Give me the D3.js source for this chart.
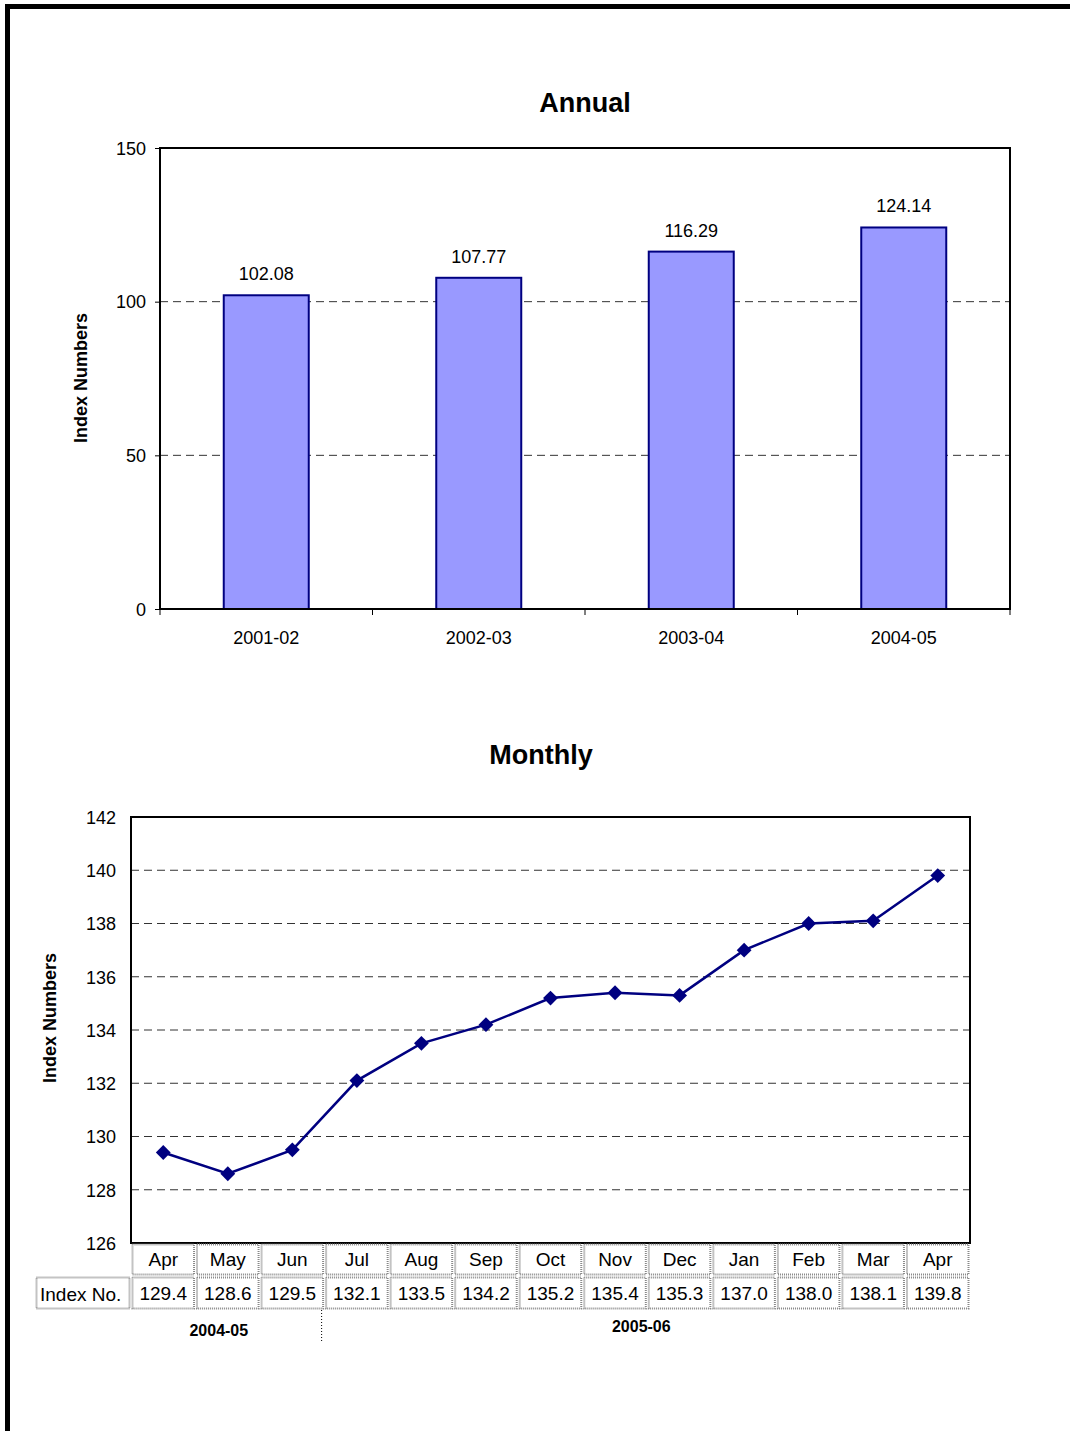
<!DOCTYPE html>
<html>
<head>
<meta charset="utf-8">
<script src="https://cdn.jsdelivr.net/npm/d3@7"></script>
<style>
  body { margin: 0; background: #fff; }
  text { font-family: "Liberation Sans", Arial, sans-serif; fill: #000; }
</style>
</head>
<body>
<script>
// annual data
var years = ["2001-02", "2002-03", "2003-04", "2004-05"];
var annualValues = [102.08, 107.77, 116.29, 124.14];
var annualTicks = [0, 50, 100, 150];

// monthly data
var months = ["Apr", "May", "Jun", "Jul", "Aug", "Sep", "Oct", "Nov", "Dec", "Jan", "Feb", "Mar", "Apr"];
var monthlyValues = [129.4, 128.6, 129.5, 132.1, 133.5, 134.2, 135.2, 135.4, 135.3, 137.0, 138.0, 138.1, 139.8];
var monthlyTicks = [126, 128, 130, 132, 134, 136, 138, 140, 142];
var periods = [{label: "2004-05", from: 0, to: 3}, {label: "2005-06", from: 3, to: 13}];

var W = 1070, H = 1431;

var svg = d3.select("body")
	.append("svg")
	.attr("width", W)
	.attr("height", H);

// page frame
svg.append("line").attr("x1", 7.5).attr("y1", 4).attr("x2", 7.5).attr("y2", H)
	.style("stroke", "#000").style("stroke-width", 5);
svg.append("line").attr("x1", 5).attr("y1", 6.5).attr("x2", W).attr("y2", 6.5)
	.style("stroke", "#000").style("stroke-width", 5);

/* ---------- Annual ---------- */
var a = {left: 160, right: 1010, top: 148, bottom: 609};

var ax = d3.scaleBand().domain(years).range([a.left, a.right]).paddingInner(0.6).paddingOuter(0.3);
var ay = d3.scaleLinear().domain([0, 150]).range([a.bottom, a.top]);

svg.append("text").attr("x", 585).attr("y", 112).attr("text-anchor", "middle")
	.style("font-size", "27px").style("font-weight", "bold").text("Annual");

// gridlines
svg.selectAll(".agrid").data(annualTicks.filter(function(d) { return d > 0 && d < 150; }))
	.enter().append("line")
	.attr("x1", a.left).attr("x2", a.right)
	.attr("y1", function(d) { return ay(d); }).attr("y2", function(d) { return ay(d); })
	.style("stroke", "#333").style("stroke-width", 1).style("stroke-dasharray", "8,5");

svg.selectAll(".bar").data(annualValues).enter().append("rect")
	.attr("x", function(d, i) { return ax(years[i]); })
	.attr("y", function(d) { return ay(d); })
	.attr("width", ax.bandwidth())
	.attr("height", function(d) { return ay(0) - ay(d); })
	.style("fill", "#9999ff").style("stroke", "#000080").style("stroke-width", 2);

svg.selectAll(".blabel").data(annualValues).enter().append("text")
	.attr("x", function(d, i) { return ax(years[i]) + ax.bandwidth() / 2; })
	.attr("y", function(d) { return ay(d) - 15; })
	.attr("text-anchor", "middle").style("font-size", "18px")
	.text(function(d) { return d.toFixed(2); });

svg.append("rect").attr("x", a.left).attr("y", a.top)
	.attr("width", a.right - a.left).attr("height", a.bottom - a.top)
	.style("fill", "none").style("stroke", "#000").style("stroke-width", 2);

var ayAxis = svg.append("g").attr("transform", "translate(" + a.left + ",0)")
	.call(d3.axisLeft(ay).tickValues(annualTicks).tickSize(5).tickPadding(9));
ayAxis.select(".domain").remove();
ayAxis.selectAll("text").style("font-size", "18px").attr("dy", "0.35em");

// category boundary ticks
var step = (a.right - a.left) / years.length;
var bounds = d3.range(years.length + 1).map(function(i) { return a.left + i * step; });
svg.selectAll(".xtick").data(bounds).enter().append("line")
	.attr("x1", function(d) { return d; }).attr("x2", function(d) { return d; })
	.attr("y1", a.bottom).attr("y2", a.bottom + 6)
	.style("stroke", "#000").style("stroke-width", 1);
svg.selectAll(".xlab").data(years).enter().append("text")
	.attr("x", function(d) { return ax(d) + ax.bandwidth() / 2; })
	.attr("y", 644).attr("text-anchor", "middle").style("font-size", "18px")
	.text(function(d) { return d; });

svg.append("text").attr("transform", "translate(87,378) rotate(-90)")
	.attr("text-anchor", "middle").style("font-size", "18px").style("font-weight", "bold")
	.text("Index Numbers");

/* ---------- Monthly ---------- */
var m = {left: 131, right: 970, top: 817, bottom: 1243};
var idx = d3.range(months.length);

var mx = d3.scaleBand().domain(idx).range([m.left, m.right]);
var my = d3.scaleLinear().domain([126, 142]).range([m.bottom, m.top]);

svg.append("text").attr("x", 541).attr("y", 764).attr("text-anchor", "middle")
	.style("font-size", "27px").style("font-weight", "bold").text("Monthly");

svg.selectAll(".mgrid").data(monthlyTicks.filter(function(d) { return d > 126 && d < 142; }))
	.enter().append("line")
	.attr("x1", m.left).attr("x2", m.right)
	.attr("y1", function(d) { return my(d); }).attr("y2", function(d) { return my(d); })
	.style("stroke", "#333").style("stroke-width", 1).style("stroke-dasharray", "8,5");

svg.append("rect").attr("x", m.left).attr("y", m.top)
	.attr("width", m.right - m.left).attr("height", m.bottom - m.top)
	.style("fill", "none").style("stroke", "#000").style("stroke-width", 2);

var line = d3.line()
	.x(function(d, i) { return mx(i) + mx.bandwidth() / 2; })
	.y(function(d) { return my(d); });

svg.append("path").datum(monthlyValues).attr("d", line)
	.style("fill", "none").style("stroke", "#000080").style("stroke-width", 2.5);

svg.selectAll(".pt").data(monthlyValues).enter().append("path")
	.attr("d", d3.symbol().type(d3.symbolDiamond2).size(140))
	.attr("transform", function(d, i) {
		return "translate(" + (mx(i) + mx.bandwidth() / 2) + "," + my(d) + ")";
	})
	.style("fill", "#000080");

var myAxis = svg.append("g").attr("transform", "translate(" + m.left + ",0)")
	.call(d3.axisLeft(my).tickValues(monthlyTicks).tickSize(0).tickPadding(15));
myAxis.select(".domain").remove();
myAxis.selectAll("text").style("font-size", "18px").attr("dy", "0.35em");

svg.append("text").attr("transform", "translate(56,1018) rotate(-90)")
	.attr("text-anchor", "middle").style("font-size", "18px").style("font-weight", "bold")
	.text("Index Numbers");

// data table
var row1 = {y: m.bottom, h: 33};
var row2 = {y: m.bottom + 33, h: 34};

function cell(x, y, w, h) {
	svg.append("rect").attr("x", x + 1.5).attr("y", y + 1.5)
		.attr("width", w - 3).attr("height", h - 3)
		.style("fill", "none").style("stroke", "#888").style("stroke-width", 2)
		.style("stroke-dasharray", "1,1");
}

idx.forEach(function(i) {
	cell(mx(i), row1.y, mx.bandwidth(), row1.h);
	cell(mx(i), row2.y, mx.bandwidth(), row2.h);
});
cell(35, row2.y, m.left - 35, row2.h);

svg.selectAll(".mname").data(months).enter().append("text")
	.attr("x", function(d, i) { return mx(i) + mx.bandwidth() / 2; })
	.attr("y", row1.y + 23).attr("text-anchor", "middle").style("font-size", "19px")
	.text(function(d) { return d; });
svg.selectAll(".mval").data(monthlyValues).enter().append("text")
	.attr("x", function(d, i) { return mx(i) + mx.bandwidth() / 2; })
	.attr("y", row2.y + 24).attr("text-anchor", "middle").style("font-size", "19px")
	.text(function(d) { return d.toFixed(1); });
svg.append("text").attr("x", 40).attr("y", row2.y + 25).style("font-size", "19px").text("Index No.");

// period labels
var labelY = [1336, 1332];
var labelShift = [-9, -6];
periods.forEach(function(p, k) {
	var x0 = mx(p.from), x1 = p.to < months.length ? mx(p.to) : m.right;
	svg.append("text").attr("x", (x0 + x1) / 2 + labelShift[k]).attr("y", labelY[k])
		.attr("text-anchor", "middle").style("font-size", "16px").style("font-weight", "bold")
		.text(p.label);
});
var sep = mx(periods[1].from) - 3;
svg.append("line").attr("x1", sep).attr("x2", sep).attr("y1", row2.y + row2.h).attr("y2", 1342)
	.style("stroke", "#000").style("stroke-width", 1).style("stroke-dasharray", "1,2");
</script>
</body>
</html>
